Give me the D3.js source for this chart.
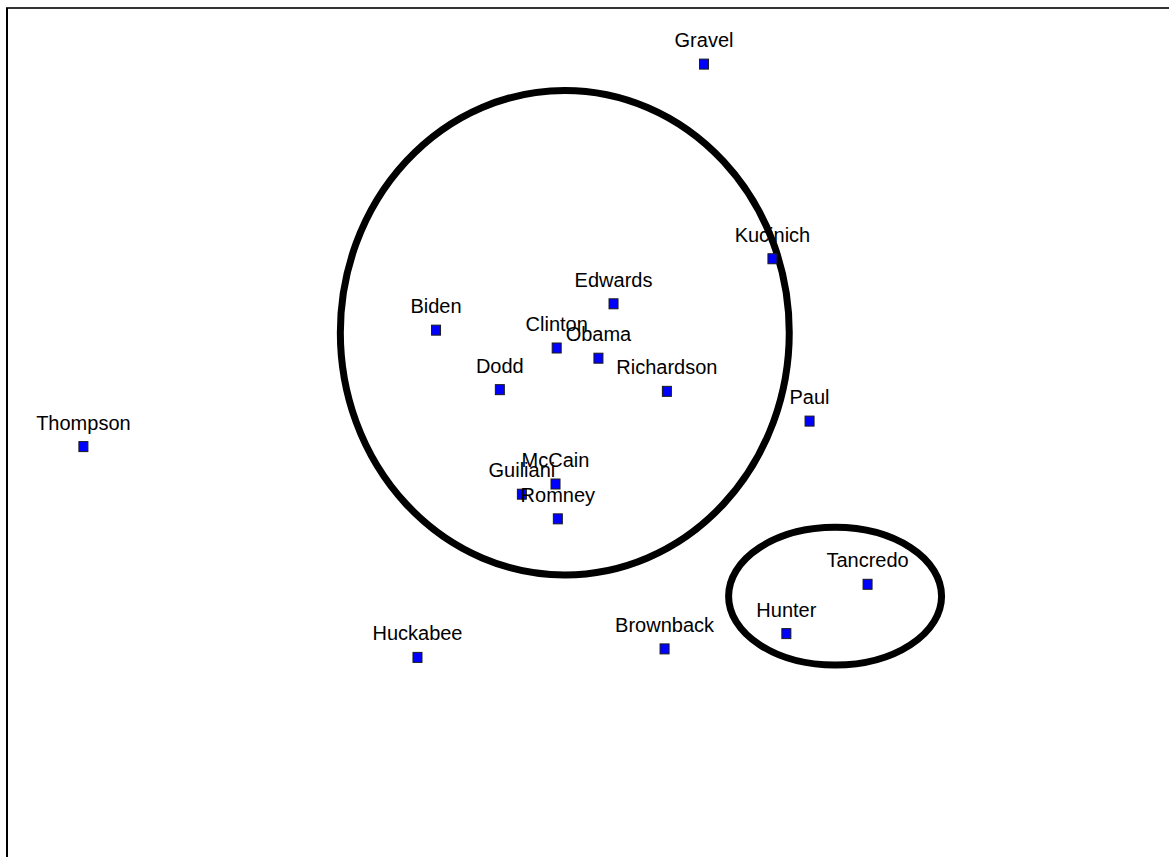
<!DOCTYPE html>
<html>
<head>
<meta charset="utf-8">
<script src="https://cdn.jsdelivr.net/npm/d3@7"></script>
<style>
  body { margin: 0; background: #fff; }
  .lbl { font-family: "Liberation Sans", Arial, sans-serif; font-size: 20px; fill: #000; }
</style>
</head>
<body>
<svg width="1169" height="857"></svg>
<script>
// candidate names and their two coordinates
var names = ['Gravel', 'Kucinich', 'Edwards', 'Biden', 'Clinton', 'Obama', 'Dodd', 'Richardson',
  'Paul', 'Thompson', 'McCain', 'Guiliani', 'Romney', 'Tancredo', 'Hunter', 'Brownback', 'Huckabee'];
var dimX = [6.00, 6.59, 5.22, 3.69, 4.73, 5.09, 4.24, 5.68, 6.91, 0.65, 4.72, 4.43, 4.74, 7.41, 6.71, 5.66, 3.53];
var dimY = [9.34, 7.05, 6.52, 6.21, 6.00, 5.88, 5.51, 5.49, 5.14, 4.84, 4.40, 4.28, 3.99, 3.22, 2.64, 2.46, 2.36];

// cluster ellipses: centre x, centre y, radius x, radius y
var clusterCx = [4.80, 7.13];
var clusterCy = [6.18, 3.08];
var clusterRx = [1.935, 0.918];
var clusterRy = [2.85, 0.81];

var svg = d3.select('svg');

var x = d3.scaleLinear().domain([0, 10]).range([8, 1168]);
var y = d3.scaleLinear().domain([0, 10]).range([858, 8]);

var data = names.map(function (n, i) { return { name: n, x: dimX[i], y: dimY[i] }; });

// frame (only top and left edges are visible)
svg.append('line')
  .attr('x1', 6).attr('x2', 1169).attr('y1', 8).attr('y2', 8)
  .attr('stroke', '#333').attr('stroke-width', 2);
svg.append('line')
  .attr('x1', 7).attr('x2', 7).attr('y1', 8).attr('y2', 857)
  .attr('stroke', '#000').attr('stroke-width', 2);

// ellipses
svg.selectAll('ellipse')
  .data(clusterCx)
  .enter().append('ellipse')
  .attr('cx', function (d) { return x(d); })
  .attr('cy', function (d, i) { return y(clusterCy[i]); })
  .attr('rx', function (d, i) { return x(clusterRx[i]) - x(0); })
  .attr('ry', function (d, i) { return y(0) - y(clusterRy[i]); })
  .attr('fill', 'none')
  .attr('stroke', '#000')
  .attr('stroke-width', 7);

// markers
svg.selectAll('rect.pt')
  .data(data)
  .enter().append('rect')
  .attr('class', 'pt')
  .attr('x', function (d) { return x(d.x) - 4.5; })
  .attr('y', function (d) { return y(d.y) - 5; })
  .attr('width', 9)
  .attr('height', 10)
  .attr('fill', '#0000ff')
  .attr('stroke', '#1a1a1a')
  .attr('stroke-width', 1);

// labels
svg.selectAll('text.lbl')
  .data(data)
  .enter().append('text')
  .attr('class', 'lbl')
  .attr('x', function (d) { return x(d.x); })
  .attr('y', function (d) { return y(d.y) - 17; })
  .attr('text-anchor', 'middle')
  .text(function (d) { return d.name; });
</script>
</body>
</html>
